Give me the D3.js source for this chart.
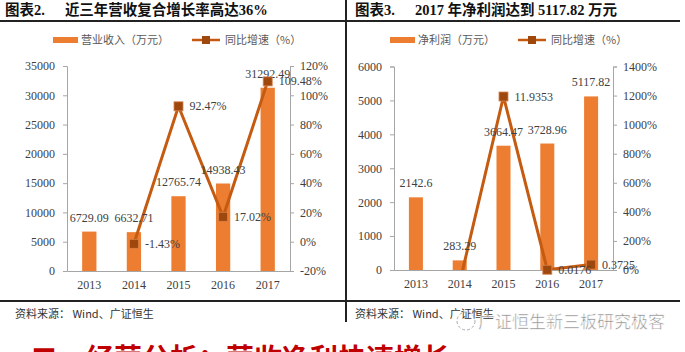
<!DOCTYPE html>
<html>
<head>
<meta charset="utf-8">
<script src="https://cdn.jsdelivr.net/npm/d3@7"></script>
<style>
  body { margin: 0; background: #fff; }
  svg { display: block; }
  .num { font-family: "Liberation Serif", "DejaVu Serif", serif; font-size: 12px; fill: #404040; }
  .cjk { font-family: "Noto Sans CJK SC", sans-serif; }
  .ttl { font-family: "Liberation Serif", "Noto Sans CJK SC", serif; }
</style>
</head>
<body>
<svg width="685" height="352"></svg>
<script>
// 数据
var years = ["2013", "2014", "2015", "2016", "2017"];
var revenue = [6729.09, 6632.71, 12765.74, 14938.43, 31292.49];
var revenueGrowth = [null, -1.43, 92.47, 17.02, 109.48];
var revenueGrowthLabels = ["", "-1.43%", "92.47%", "17.02%", "109.48%"];
var profit = [2142.6, 283.29, 3664.47, 3728.96, 5117.82];
var profitGrowth = [null, -86.78, 1193.53, 1.76, 37.25];
var profitGrowthLabels = ["", "", "11.9353", "0.0176", "0.3725"];
var leftTicks1 = [0, 5000, 10000, 15000, 20000, 25000, 30000, 35000];
var rightTicks1 = [-20, 0, 20, 40, 60, 80, 100, 120];
var leftTicks2 = [0, 1000, 2000, 3000, 4000, 5000, 6000];
var rightTicks2 = [0, 200, 400, 600, 800, 1000, 1200, 1400];

var barColor = "#ED7D31", lineColor = "#C55A11", markerColor = "#9E480E", axisColor = "#A6A6A6";

var svg = d3.select("svg");

// 框线
svg.append("line").attr("x1", 0).attr("x2", 680).attr("y1", 21).attr("y2", 21)
  .attr("stroke", "#222").attr("stroke-width", 2);
svg.append("line").attr("x1", 0).attr("x2", 680).attr("y1", 301).attr("y2", 301)
  .attr("stroke", "#222").attr("stroke-width", 2);
svg.append("line").attr("x1", 346).attr("x2", 346).attr("y1", 0).attr("y2", 322)
  .attr("stroke", "#222").attr("stroke-width", 2);

// 标题
function title(x, label, text) {
  var t = svg.append("text").attr("class", "ttl").attr("x", x).attr("y", 15)
    .attr("font-size", 14.5).attr("font-weight", "bold").attr("fill", "#111");
  t.append("tspan").text(label);
  t.append("tspan").attr("dx", 20).text(text);
}
title(5, "图表2.", "近三年营收复合增长率高达36%");
title(355, "图表3.", "2017 年净利润达到 5117.82 万元");

// 资料来源
svg.append("text").attr("class", "cjk").attr("x", 15).attr("y", 318)
  .attr("font-size", 11).attr("fill", "#333").text("资料来源：  Wind、广证恒生");
svg.append("text").attr("class", "cjk").attr("x", 355).attr("y", 318)
  .attr("font-size", 11).attr("fill", "#333").text("资料来源：  Wind、广证恒生");

function drawChart(opt) {
  var g = svg.append("g");
  var x = d3.scaleBand().domain(years).range([opt.x0, opt.x1]).paddingInner(0.68).paddingOuter(0.34);
  var yL = d3.scaleLinear().domain(opt.leftDomain).range([opt.yBottom, opt.yTop]);
  var yR = d3.scaleLinear().domain(opt.rightDomain).range([opt.yBottom, opt.yTop]);

  // 图例
  var lg = g.append("g");
  lg.append("rect").attr("x", opt.legX).attr("y", 37).attr("width", 25).attr("height", 6).attr("fill", barColor);
  lg.append("text").attr("class", "cjk").attr("x", opt.legX + 28).attr("y", 44)
    .attr("font-size", 11).attr("fill", "#595959").text(opt.barName);
  lg.append("line").attr("x1", opt.legX2).attr("x2", opt.legX2 + 28).attr("y1", 40).attr("y2", 40)
    .attr("stroke", lineColor).attr("stroke-width", 2.5);
  lg.append("rect").attr("x", opt.legX2 + 10).attr("y", 36).attr("width", 8).attr("height", 8).attr("fill", markerColor);
  lg.append("text").attr("class", "cjk").attr("x", opt.legX2 + 33).attr("y", 44)
    .attr("font-size", 11).attr("fill", "#595959").text("同比增速（%）");

  // 坐标轴
  var axL = g.append("g").attr("transform", "translate(" + opt.x0 + ",0)")
    .call(d3.axisLeft(yL).tickValues(opt.leftTicks).tickSize(4).tickPadding(8).tickFormat(d3.format("d")));
  var axR = g.append("g").attr("transform", "translate(" + opt.x1 + ",0)")
    .call(d3.axisRight(yR).tickValues(opt.rightTicks).tickSize(4).tickPadding(6).tickFormat(function (d) { return d + "%"; }));
  var axB = g.append("g").attr("transform", "translate(0," + opt.yBottom + ")")
    .call(d3.axisBottom(x).tickSize(0).tickPadding(9));
  [axL, axR, axB].forEach(function (a) {
    a.selectAll("path, line").attr("stroke", axisColor);
    a.selectAll("text").attr("class", "num").attr("font-size", null).attr("font-family", null);
  });

  // 柱
  g.selectAll(".bar").data(opt.bars).enter().append("rect")
    .attr("x", function (d, i) { return x(years[i]); })
    .attr("width", x.bandwidth())
    .attr("y", function (d) { return yL(d); })
    .attr("height", function (d) { return yL(0) - yL(d); })
    .attr("fill", barColor);

  // 折线 (裁剪到绘图区)
  var clipId = "clip" + opt.id;
  g.append("clipPath").attr("id", clipId).append("rect")
    .attr("x", opt.x0).attr("y", opt.yTop - 10).attr("width", opt.x1 - opt.x0).attr("height", opt.yBottom - opt.yTop + 10);
  var pts = opt.growth.map(function (v, i) { return { v: v, i: i }; }).filter(function (d) { return d.v !== null; });
  var line = d3.line()
    .x(function (d) { return x(years[d.i]) + x.bandwidth() / 2; })
    .y(function (d) { return yR(d.v); });
  g.append("path").datum(pts).attr("d", line).attr("fill", "none")
    .attr("stroke", lineColor).attr("stroke-width", 3).attr("clip-path", "url(#" + clipId + ")");

  // 柱标签
  g.selectAll(".blab").data(opt.bars).enter().append("text").attr("class", "num")
    .attr("x", function (d, i) { return x(years[i]) + x.bandwidth() / 2; })
    .attr("y", function (d) { return yL(d) - 10; })
    .attr("text-anchor", "middle")
    .text(function (d) { return d; });

  // 标记
  var shown = pts.filter(function (d) { return yR(d.v) <= opt.yBottom; });
  g.selectAll(".mk").data(shown).enter().append("rect")
    .attr("x", function (d) { return x(years[d.i]) + x.bandwidth() / 2 - 4.5; })
    .attr("y", function (d) { return yR(d.v) - 4.5; })
    .attr("width", 9).attr("height", 9)
    .attr("fill", markerColor).attr("stroke", "#D9824A").attr("stroke-width", 0.8);

  g.selectAll(".llab").data(shown).enter().append("text").attr("class", "num")
    .attr("x", function (d) { return x(years[d.i]) + x.bandwidth() / 2 + 11; })
    .attr("y", function (d) { return yR(d.v) + 4; })
    .text(function (d) { return opt.growthLabels[d.i]; });
}

drawChart({
  id: 1, x0: 67, x1: 290, yTop: 66, yBottom: 271,
  leftDomain: [0, 35000], rightDomain: [-20, 120],
  leftTicks: leftTicks1, rightTicks: rightTicks1,
  bars: revenue, growth: revenueGrowth, growthLabels: revenueGrowthLabels,
  legX: 53, legX2: 192, barName: "营业收入（万元）"
});
drawChart({
  id: 2, x0: 394, x1: 613, yTop: 66.5, yBottom: 270,
  leftDomain: [0, 6000], rightDomain: [0, 1400],
  leftTicks: leftTicks2, rightTicks: rightTicks2,
  bars: profit, growth: profitGrowth, growthLabels: profitGrowthLabels,
  legX: 390, legX2: 518, barName: "净利润（万元）"
});

// 水印
var wm = svg.append("g");
wm.append("circle").attr("cx", 466).attr("cy", 321).attr("r", 9)
  .attr("fill", "none").attr("stroke", "#aaa").attr("stroke-width", 1).attr("stroke-dasharray", "3,2");
wm.append("text").attr("class", "cjk").attr("x", 478).attr("y", 328)
  .attr("font-size", 17).attr("fill", "#8c8c8c").attr("stroke", "#fff").attr("stroke-width", 0.5)
  .text("广证恒生新三板研究极客");

// 底部被截断的红色标题
svg.append("text").attr("class", "cjk").attr("x", 30).attr("y", 369)
  .attr("font-size", 28).attr("font-weight", "bold").attr("fill", "#C00000")
  .text("二、经营分析：营收净利快速增长");
</script>
</body>
</html>
